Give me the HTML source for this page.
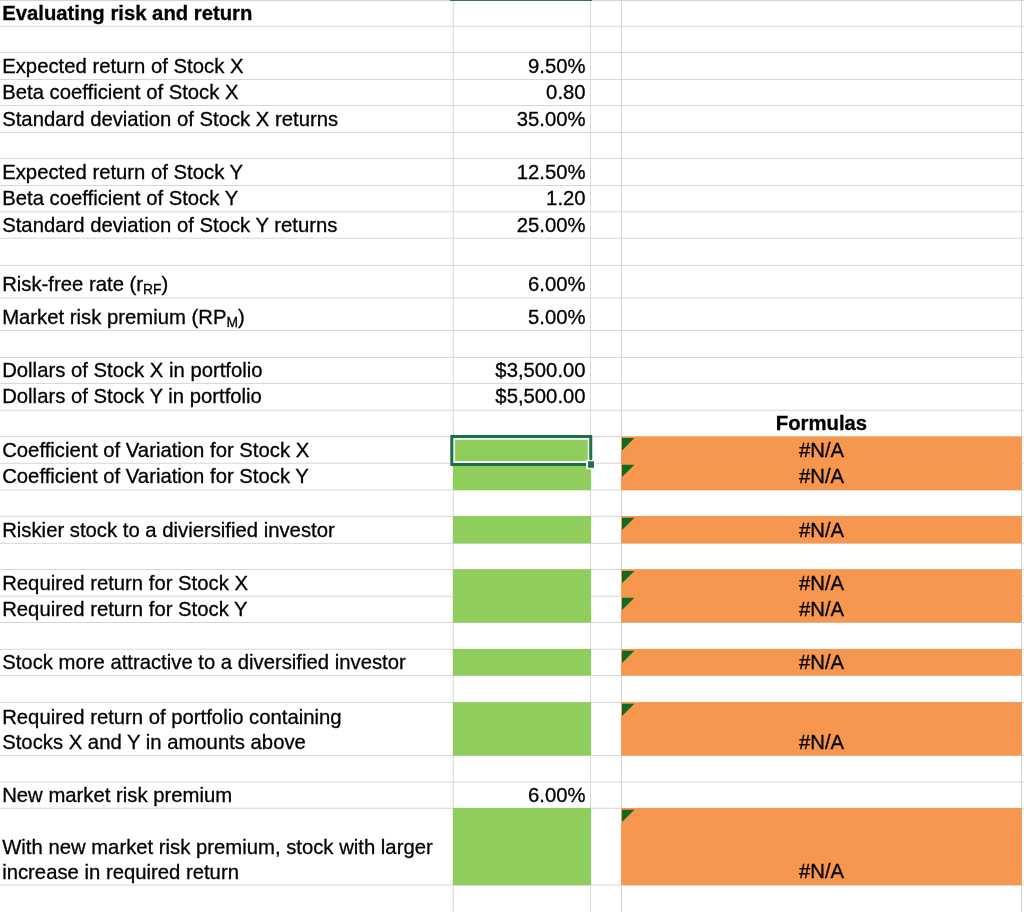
<!DOCTYPE html>
<html><head><meta charset="utf-8"><title>Evaluating risk and return</title>
<style>
html,body{margin:0;padding:0;background:#fff;}
body{width:1024px;height:912px;position:relative;overflow:hidden;font-family:"Liberation Sans",sans-serif;color:#000;}
.t{position:absolute;font-size:20.3px;line-height:40px;height:40px;white-space:nowrap;-webkit-text-stroke:0.3px #000;}
#tx{position:absolute;left:0;top:0;width:1024px;height:912px;will-change:transform;}
.t.r{text-align:right;}
.t.c{text-align:center;}
.sub{font-size:13.8px;position:relative;top:2.5px;line-height:0;}
</style></head><body>
<svg width="1024" height="912" viewBox="0 0 1024 912" style="position:absolute;left:0;top:0">
<g stroke="#d6d6d6" stroke-width="1" fill="none">
<line x1="0" y1="0.3" x2="1024" y2="0.3" stroke="#c9c9c9"/>
<line x1="0" y1="26.25" x2="1024" y2="26.25"/>
<line x1="0" y1="52.5" x2="1024" y2="52.5"/>
<line x1="0" y1="79.5" x2="1024" y2="79.5"/>
<line x1="0" y1="105.5" x2="1024" y2="105.5"/>
<line x1="0" y1="132.5" x2="1024" y2="132.5"/>
<line x1="0" y1="158.5" x2="1024" y2="158.5"/>
<line x1="0" y1="185.5" x2="1024" y2="185.5"/>
<line x1="0" y1="211.75" x2="1024" y2="211.75"/>
<line x1="0" y1="238.25" x2="1024" y2="238.25"/>
<line x1="0" y1="265.4" x2="1024" y2="265.4"/>
<line x1="0" y1="297.9" x2="1024" y2="297.9"/>
<line x1="0" y1="330.4" x2="1024" y2="330.4"/>
<line x1="0" y1="357.4" x2="1024" y2="357.4"/>
<line x1="0" y1="383.4" x2="1024" y2="383.4"/>
<line x1="0" y1="410.2" x2="1024" y2="410.2"/>
<line x1="0" y1="436.7" x2="1024" y2="436.7"/>
<line x1="0" y1="463.25" x2="1024" y2="463.25"/>
<line x1="0" y1="490" x2="1024" y2="490"/>
<line x1="0" y1="516.3" x2="1024" y2="516.3"/>
<line x1="0" y1="543.3" x2="1024" y2="543.3"/>
<line x1="0" y1="569.5" x2="1024" y2="569.5"/>
<line x1="0" y1="596.25" x2="1024" y2="596.25"/>
<line x1="0" y1="622.5" x2="1024" y2="622.5"/>
<line x1="0" y1="649.25" x2="1024" y2="649.25"/>
<line x1="0" y1="675.5" x2="1024" y2="675.5"/>
<line x1="0" y1="702.4" x2="1024" y2="702.4"/>
<line x1="0" y1="755.5" x2="1024" y2="755.5"/>
<line x1="0" y1="782" x2="1024" y2="782"/>
<line x1="0" y1="808.25" x2="1024" y2="808.25"/>
<line x1="0" y1="885.1" x2="1024" y2="885.1"/>
<line x1="453.25" y1="0" x2="453.25" y2="912"/>
<line x1="590.5" y1="0" x2="590.5" y2="912"/>
<line x1="621.5" y1="0" x2="621.5" y2="912"/>
<line x1="1021.5" y1="0" x2="1021.5" y2="912"/>
</g>
<rect x="452.9" y="436.45" width="138.20000000000005" height="53.65000000000001" fill="#8fce5c"/>
<rect x="621.1" y="436.45" width="400.79999999999995" height="53.65000000000001" fill="#f7964e"/>
<rect x="452.9" y="516.05" width="138.20000000000005" height="27.35" fill="#8fce5c"/>
<rect x="621.1" y="516.05" width="400.79999999999995" height="27.35" fill="#f7964e"/>
<rect x="452.9" y="569.25" width="138.20000000000005" height="53.35" fill="#8fce5c"/>
<rect x="621.1" y="569.25" width="400.79999999999995" height="53.35" fill="#f7964e"/>
<rect x="452.9" y="649.0" width="138.20000000000005" height="26.6" fill="#8fce5c"/>
<rect x="621.1" y="649.0" width="400.79999999999995" height="26.6" fill="#f7964e"/>
<rect x="452.9" y="702.15" width="138.20000000000005" height="53.450000000000024" fill="#8fce5c"/>
<rect x="621.1" y="702.15" width="400.79999999999995" height="53.450000000000024" fill="#f7964e"/>
<rect x="452.9" y="808.0" width="138.20000000000005" height="77.20000000000002" fill="#8fce5c"/>
<rect x="621.1" y="808.0" width="400.79999999999995" height="77.20000000000002" fill="#f7964e"/>
<path d="M622 438.09999999999997h12.4L622 450.4z" fill="#0f6b1e"/>
<path d="M622 464.65h12.4L622 476.95z" fill="#0f6b1e"/>
<path d="M622 517.6999999999999h12.4L622 529.9999999999999z" fill="#0f6b1e"/>
<path d="M622 570.9h12.4L622 583.1999999999999z" fill="#0f6b1e"/>
<path d="M622 597.65h12.4L622 609.9499999999999z" fill="#0f6b1e"/>
<path d="M622 650.65h12.4L622 662.9499999999999z" fill="#0f6b1e"/>
<path d="M622 703.8h12.4L622 716.0999999999999z" fill="#0f6b1e"/>
<path d="M622 809.65h12.4L622 821.9499999999999z" fill="#0f6b1e"/>
<rect x="450.3" y="435" width="142" height="31" fill="#fff"/>
<rect x="455.1" y="439.7" width="132.69999999999993" height="21.30000000000001" fill="#8fce5c"/>
<rect x="451.8" y="436.5" width="138.95" height="28" fill="none" stroke="#1d7044" stroke-width="3"/>
<rect x="586" y="459.9" width="9.4" height="9.3" fill="#fff"/>
<rect x="588" y="461.3" width="6" height="6.5" fill="#1d7044"/>
<rect x="450" y="0" width="142" height="0.9" fill="#1d7044"/>
</svg>
<div id="tx">
<div class="t" style="left:2.2px;top:-7px;font-weight:bold;">Evaluating risk and return</div>
<div class="t" style="left:2.2px;top:46px;">Expected return of Stock X</div>
<div class="t r" style="left:453px;width:132.6px;top:46px">9.50%</div>
<div class="t" style="left:2.2px;top:72px;">Beta coefficient of Stock X</div>
<div class="t r" style="left:453px;width:132.6px;top:72px">0.80</div>
<div class="t" style="left:2.2px;top:99px;">Standard deviation of Stock X returns</div>
<div class="t r" style="left:453px;width:132.6px;top:99px">35.00%</div>
<div class="t" style="left:2.2px;top:152px;">Expected return of Stock Y</div>
<div class="t r" style="left:453px;width:132.6px;top:152px">12.50%</div>
<div class="t" style="left:2.2px;top:178px;">Beta coefficient of Stock Y</div>
<div class="t r" style="left:453px;width:132.6px;top:178px">1.20</div>
<div class="t" style="left:2.2px;top:205px;">Standard deviation of Stock Y returns</div>
<div class="t r" style="left:453px;width:132.6px;top:205px">25.00%</div>
<div class="t" style="left:2.2px;top:264px;">Risk-free rate (r<span class="sub">RF</span>)</div>
<div class="t r" style="left:453px;width:132.6px;top:264px">6.00%</div>
<div class="t" style="left:2.2px;top:297px;">Market risk premium (RP<span class="sub">M</span>)</div>
<div class="t r" style="left:453px;width:132.6px;top:297px">5.00%</div>
<div class="t" style="left:2.2px;top:350px;">Dollars of Stock X in portfolio</div>
<div class="t r" style="left:453px;width:132.6px;top:350px">$3,500.00</div>
<div class="t" style="left:2.2px;top:376px;">Dollars of Stock Y in portfolio</div>
<div class="t r" style="left:453px;width:132.6px;top:376px">$5,500.00</div>
<div class="t c" style="left:621.5px;width:400px;top:403px;font-weight:bold;">Formulas</div>
<div class="t" style="left:2.2px;top:430px;">Coefficient of Variation for Stock X</div>
<div class="t c" style="left:621.5px;width:400px;top:430px;">#N/A</div>
<div class="t" style="left:2.2px;top:456px;">Coefficient of Variation for Stock Y</div>
<div class="t c" style="left:621.5px;width:400px;top:456px;">#N/A</div>
<div class="t" style="left:2.2px;top:510px;">Riskier stock to a diviersified investor</div>
<div class="t c" style="left:621.5px;width:400px;top:510px;">#N/A</div>
<div class="t" style="left:2.2px;top:563px;">Required return for Stock X</div>
<div class="t c" style="left:621.5px;width:400px;top:563px;">#N/A</div>
<div class="t" style="left:2.2px;top:589px;">Required return for Stock Y</div>
<div class="t c" style="left:621.5px;width:400px;top:589px;">#N/A</div>
<div class="t" style="left:2.2px;top:642px;">Stock more attractive to a diversified investor</div>
<div class="t c" style="left:621.5px;width:400px;top:642px;">#N/A</div>
<div class="t" style="left:2.2px;top:697px">Required return of portfolio containing</div>
<div class="t" style="left:2.2px;top:722px">Stocks X and Y in amounts above</div>
<div class="t c" style="left:621.5px;width:400px;top:722px;">#N/A</div>
<div class="t" style="left:2.2px;top:775px;">New market risk premium</div>
<div class="t r" style="left:453px;width:132.6px;top:775px">6.00%</div>
<div class="t" style="left:2.2px;top:827px">With new market risk premium, stock with larger</div>
<div class="t" style="left:2.2px;top:852px">increase in required return</div>
<div class="t c" style="left:621.5px;width:400px;top:851px;">#N/A</div>
</div>
</body></html>
